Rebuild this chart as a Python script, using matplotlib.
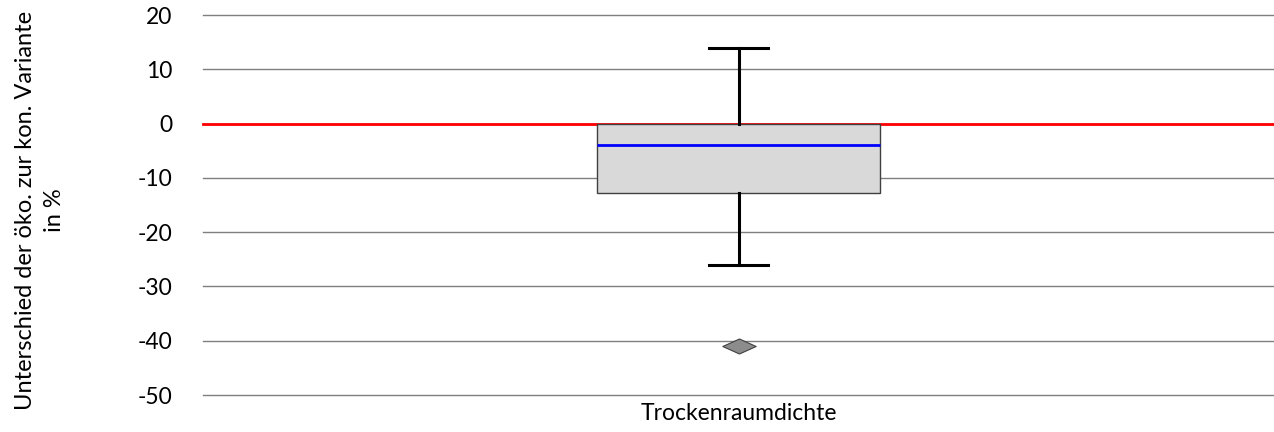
import matplotlib
matplotlib.use("Agg")
import matplotlib.pyplot as plt
from matplotlib.path import Path

plt.rcParams['font.family'] = ['Lato', 'DejaVu Sans']

category = ["Trockenraumdichte"]
q1 = [-12.8]
q3 = [0.0]
median = [-3.9]
whisker_low = [-26.0]
whisker_high = [14.0]
outliers = [[-40.9]]
yticks = [20, 10, 0, -10, -20, -30, -40, -50]

fig = plt.figure(figsize=(12.74, 4.32), dpi=100)
ax = fig.add_axes([203/1274, 1 - 395/432, 1 - 203/1274, 380/432])

for y in yticks:
    ax.axhline(y, color='#7f7f7f', lw=1.0, zorder=0, clip_on=False)
ax.axhline(0, color='#ff0000', lw=2.0, zorder=1, clip_on=False)

stats = []
for i, name in enumerate(category):
    stats.append(dict(label=name, med=median[i], q1=q1[i], q3=q3[i],
                      whislo=whisker_low[i], whishi=whisker_high[i], fliers=outliers[i]))

diamond = Path([(-1, 0), (0, 0.45), (1, 0), (0, -0.45), (-1, 0)],
               [Path.MOVETO, Path.LINETO, Path.LINETO, Path.LINETO, Path.CLOSEPOLY])

ax.bxp(stats, positions=[1], widths=0.264, patch_artist=True, showfliers=True,
       boxprops=dict(facecolor='#d9d9d9', edgecolor='#404040', lw=1.0),
       medianprops=dict(color='#0000ff', lw=2.0),
       whiskerprops=dict(color='black', lw=2.2),
       capprops=dict(color='black', lw=2.2),
       capwidths=0.055,
       flierprops=dict(marker=diamond, markersize=24, markerfacecolor='#8c8c8c',
                       markeredgecolor='#404040', markeredgewidth=0.8),
       zorder=3)

ax.set_xlim(0.5, 1.5)
ax.set_ylim(-50, 20)
ax.set_yticks(yticks)
ax.set_yticklabels([str(v) for v in yticks])
ax.set_xticks([1])
ax.set_xticklabels(category)
ax.tick_params(axis='both', length=0, labelsize=16.5)
ax.tick_params(axis='y', pad=22)
ax.tick_params(axis='x', pad=6)
for s in ax.spines.values():
    s.set_visible(False)

fig.text(40/1274, 1 - 210/432, "Unterschied der öko. zur kon. Variante\nin %",
         rotation=90, ha='center', va='center', fontsize=17, linespacing=1.5,
         multialignment='center')

fig.savefig("out.png", dpi=100)
